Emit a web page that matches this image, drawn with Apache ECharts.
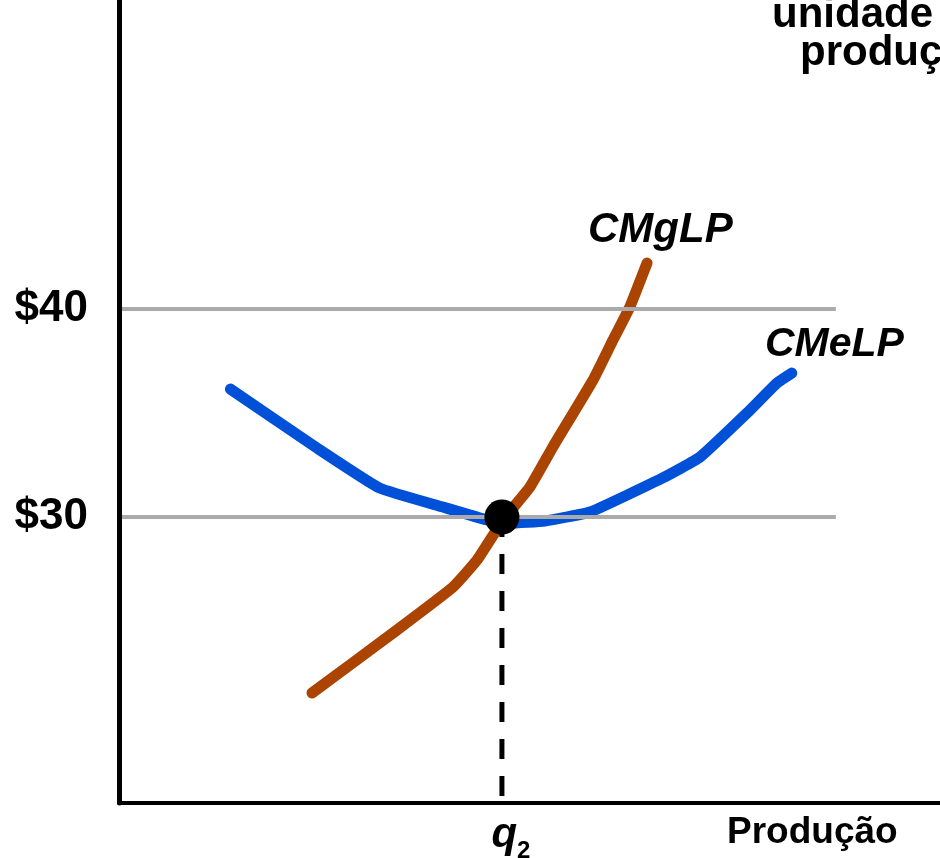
<!DOCTYPE html>
<html><head><meta charset="utf-8">
<script src="https://cdn.jsdelivr.net/npm/echarts@6/dist/echarts.min.js"></script>
<style>html,body{margin:0;padding:0;background:#fff}#c{width:940px;height:858px}</style>
</head><body><div id="c"></div>
<script>
// ---- data ----
const priceTicks = [30, 40];
const qTicks = [10];
const qTickLabel = 'q2';
const cmelpQ = [2.91, 5.17, 6.81, 8.46, 9.61, 10.21, 11.12, 12.30, 14.20, 15.17, 16.40, 17.18, 17.57];
const cmelpP = [36.15, 33.32, 31.39, 30.48, 29.86, 29.71, 29.81, 30.24, 31.88, 32.88, 35.00, 36.44, 36.92];
const cmgQ = [5.04, 7.26, 8.72, 9.35, 10.03, 10.73, 11.33, 12.38, 12.90, 13.34, 13.79];
const cmgP = [21.54, 24.57, 26.63, 27.93, 29.86, 31.44, 33.37, 36.59, 38.51, 40.10, 42.21];
const eqQ = 10, eqP = 30;
const priceLineStartQ = 0.08, priceLineEndQ = 18.72;
const xMin = 0, xMax = 21.44, yMin = 16.25, yMax = 54.86;

const zip = (a, b) => a.map((v, i) => [v, b[i]]);
const FONT = '"Liberation Sans", Arial, Helvetica, sans-serif';

const chart = echarts.init(document.getElementById('c'), null, {renderer: 'canvas'});
const priceLineSeries = priceTicks.map(p => ({
  type: 'line', symbol: 'none', silent: true, z: 4,
  data: [[priceLineStartQ, p], [priceLineEndQ, p]],
  lineStyle: {color: '#aaaaaa', width: 4}
}));

chart.setOption({
  animation: false,
  backgroundColor: '#ffffff',
  grid: {left: 119, right: 0, top: 0, bottom: 55, containLabel: false, outerBoundsMode: 'none'},
  xAxis: {
    type: 'value', min: xMin, max: xMax,
    axisLine: {show: true, lineStyle: {color: '#000', width: 4}},
    axisTick: {show: false},
    splitLine: {show: false},
    axisLabel: {
      show: true, customValues: qTicks, margin: 10,
      padding: [0, 0, 0, 18],
      formatter: () => '{q|' + qTickLabel[0] + '}{s|' + qTickLabel.slice(1) + '}',
      rich: {
        q: {fontFamily: FONT, fontWeight: 'bold', fontStyle: 'italic', fontSize: 42, color: '#000', lineHeight: 44},
        s: {fontFamily: FONT, fontWeight: 'bold', fontSize: 24, color: '#000', lineHeight: 44, verticalAlign: 'bottom', padding: [0, 0, -6, 0]}
      }
    }
  },
  yAxis: {
    type: 'value', min: yMin, max: yMax,
    axisLine: {show: true, lineStyle: {color: '#000', width: 5}},
    axisTick: {show: false},
    splitLine: {show: false},
    axisLabel: {
      show: true, customValues: priceTicks, margin: 31,
      formatter: v => '$' + v,
      fontFamily: FONT, fontWeight: 'bold', fontSize: 44, color: '#000',
      padding: [0, 0, 18, 0]
    }
  },
  series: [
    {
      type: 'line', name: 'CMeLP', symbol: 'none', smooth: 0.12, z: 2,
      data: zip(cmelpQ, cmelpP),
      lineStyle: {color: '#0050D8', width: 11, cap: 'round', join: 'round'}
    },
    {
      type: 'line', name: 'CMgLP', symbol: 'none', smooth: 0.12, z: 3,
      data: zip(cmgQ, cmgP),
      lineStyle: {color: '#AA4400', width: 11, cap: 'round', join: 'round'}
    },
    ...priceLineSeries,
    {
      type: 'line', symbol: 'none', silent: true, z: 5,
      data: [[eqQ, eqP], [eqQ, yMin]],
      lineStyle: {color: '#000', width: 5, type: [20, 17], dashOffset: 0}
    },
    {
      type: 'scatter', symbol: 'circle', symbolSize: 35, z: 6,
      data: [[eqQ, eqP]],
      itemStyle: {color: '#000', opacity: 1}
    }
  ],
  graphic: [
    {type: 'text', style: {text: 'CMgLP', x: 588, y: 230, textVerticalAlign: 'middle', font: 'italic bold 42px ' + FONT, fill: '#000'}},
    {type: 'text', style: {text: 'CMeLP', x: 765, y: 345, textVerticalAlign: 'middle', font: 'italic bold 41px ' + FONT, fill: '#000'}},
    {type: 'text', style: {text: 'Produção', x: 727, y: 833, textVerticalAlign: 'middle', font: 'bold 37px ' + FONT, fill: '#000'}},
    {type: 'text', style: {text: 'unidade', x: 772, y: 15, textVerticalAlign: 'middle', font: 'bold 42px ' + FONT, fill: '#000'}},
    {type: 'text', style: {text: 'produção', x: 800, y: 53, textVerticalAlign: 'middle', font: 'bold 42px ' + FONT, fill: '#000'}}
  ]
});
</script></body></html>
